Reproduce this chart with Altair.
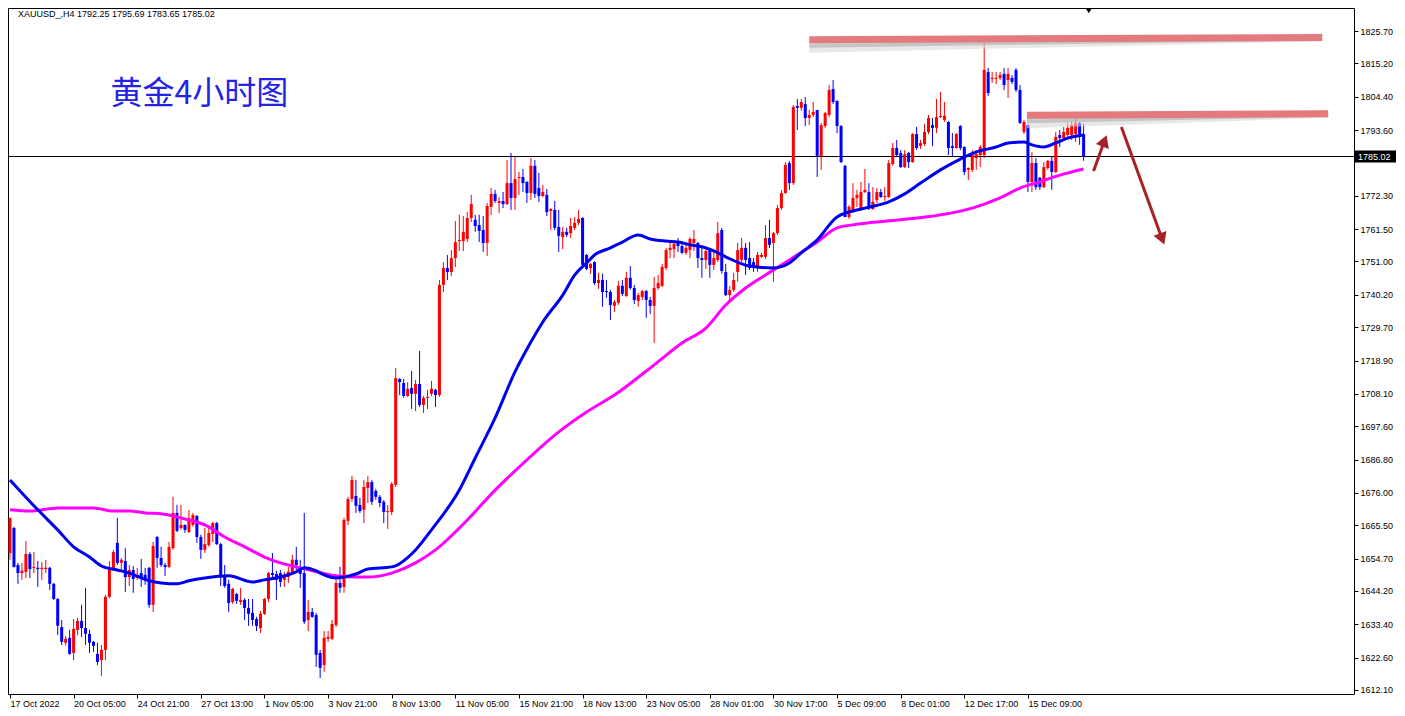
import json
import altair as alt
import pandas as pd

# ---------------- data ----------------
O = [1656.5, 1664.6, 1652.6, 1650.0, 1650.4, 1656.2, 1651.7, 1651.7, 1651.3, 1651.3,
     1651.7, 1646.5, 1641.6, 1632.5, 1627.4, 1629.0, 1624.1, 1631.6, 1634.5, 1632.2,
     1630.3, 1627.7, 1623.8, 1621.8, 1625.1, 1642.3, 1651.3, 1659.8, 1653.3, 1653.9,
     1648.7, 1651.0, 1648.4, 1650.0, 1649.4, 1651.7, 1639.7, 1661.7, 1654.9, 1652.6,
     1652.0, 1658.1, 1669.5, 1664.6, 1665.6, 1663.3, 1665.6, 1668.5, 1661.7, 1657.5,
     1659.1, 1662.7, 1666.2, 1659.4, 1649.1, 1646.5, 1640.6, 1643.2, 1640.6, 1641.3,
     1638.7, 1637.1, 1635.1, 1632.2, 1636.8, 1641.6, 1650.0, 1649.7, 1650.0, 1647.8,
     1648.7, 1650.4, 1654.3, 1652.0, 1650.0, 1634.8, 1637.4, 1636.4, 1624.1, 1620.2,
     1628.7, 1628.7, 1633.2, 1646.8, 1645.5, 1666.9, 1674.0, 1675.0, 1672.1, 1670.5,
     1677.6, 1679.5, 1676.6, 1674.7, 1673.1, 1669.8, 1669.8, 1678.6, 1712.9, 1711.6,
     1707.4, 1710.0, 1708.1, 1711.3, 1704.5, 1706.8, 1708.1, 1709.4, 1707.7, 1743.4,
     1748.9, 1747.6, 1752.1, 1757.6, 1757.6, 1758.3, 1765.1, 1764.5, 1762.8, 1761.2,
     1757.0, 1768.7, 1772.9, 1770.0, 1770.6, 1769.6, 1776.4, 1771.6, 1778.1, 1778.4,
     1776.8, 1773.2, 1782.0, 1774.8, 1772.2, 1772.6, 1767.4, 1767.7, 1762.2, 1758.9,
     1760.6, 1760.2, 1761.9, 1763.5, 1765.1, 1753.1, 1748.9, 1750.8, 1744.0, 1745.0,
     1741.4, 1741.1, 1736.6, 1737.6, 1743.1, 1739.8, 1745.7, 1742.4, 1738.2, 1739.5,
     1741.4, 1738.5, 1736.6, 1742.4, 1743.1, 1748.9, 1754.7, 1755.0, 1757.0, 1756.0,
     1753.8, 1754.7, 1757.0, 1757.0, 1752.1, 1751.5, 1754.7, 1749.9, 1751.5, 1761.2,
     1747.6, 1740.1, 1741.8, 1747.6, 1751.5, 1755.4, 1752.1, 1750.8, 1748.9, 1752.5,
     1752.5, 1758.6, 1757.0, 1760.2, 1768.3, 1773.2, 1782.9, 1776.4, 1801.4, 1800.8,
     1802.0, 1797.5, 1798.5, 1800.1, 1785.2, 1794.9, 1798.5, 1806.9, 1803.0, 1794.9,
     1782.0, 1765.4, 1767.0, 1771.6, 1768.3, 1773.5, 1773.5, 1768.0, 1770.9, 1773.5,
     1771.9, 1771.9, 1782.6, 1787.8, 1786.2, 1781.6, 1786.2, 1783.2, 1792.3, 1788.4,
     1789.1, 1793.0, 1795.2, 1794.3, 1797.8, 1796.9, 1796.2, 1788.4, 1787.8, 1794.9,
     1788.1, 1780.7, 1780.7, 1784.5, 1785.5, 1785.5, 1812.4, 1810.2, 1810.2, 1810.5,
     1811.8, 1809.8, 1810.5, 1813.1, 1806.6, 1793.0, 1795.2, 1776.8, 1782.9, 1778.1,
     1775.1, 1781.3, 1783.6, 1780.0, 1792.0, 1791.0, 1792.0, 1792.0, 1792.3, 1795.9,
     1792.25]

H = [1667.9, 1665.0, 1653.3, 1653.3, 1660.4, 1656.8, 1656.8, 1653.9, 1653.6, 1654.3,
     1652.0, 1646.8, 1641.9, 1634.8, 1629.6, 1631.6, 1635.1, 1635.5, 1639.7, 1645.2,
     1631.6, 1628.0, 1627.4, 1626.7, 1642.9, 1653.9, 1657.5, 1667.9, 1654.9, 1658.1,
     1652.6, 1652.3, 1651.7, 1654.6, 1651.7, 1652.0, 1660.1, 1662.0, 1658.5, 1653.3,
     1660.1, 1674.7, 1672.1, 1672.1, 1665.8, 1670.5, 1669.5, 1668.8, 1662.4, 1664.6,
     1664.6, 1666.6, 1666.6, 1659.8, 1652.6, 1647.8, 1645.2, 1643.6, 1645.2, 1641.9,
     1641.6, 1641.6, 1635.8, 1637.7, 1641.9, 1650.4, 1656.5, 1650.7, 1651.0, 1650.4,
     1652.0, 1655.9, 1658.5, 1654.3, 1669.5, 1641.3, 1638.7, 1637.1, 1625.1, 1631.2,
     1631.2, 1634.8, 1647.8, 1652.0, 1667.9, 1674.7, 1681.5, 1680.2, 1674.4, 1680.2,
     1681.5, 1680.2, 1677.3, 1675.3, 1673.7, 1672.1, 1679.5, 1716.5, 1713.2, 1712.9,
     1711.9, 1715.5, 1712.6, 1722.0, 1707.4, 1709.4, 1712.3, 1709.7, 1745.0, 1750.8,
     1753.1, 1754.7, 1764.1, 1766.1, 1765.7, 1767.0, 1772.6, 1766.1, 1766.1, 1765.7,
     1770.0, 1774.8, 1774.2, 1771.9, 1773.5, 1783.9, 1786.2, 1785.2, 1780.0, 1781.0,
     1777.0, 1784.5, 1783.9, 1779.7, 1775.8, 1774.5, 1768.3, 1770.6, 1767.7, 1762.2,
     1761.9, 1765.1, 1765.4, 1767.7, 1765.4, 1753.4, 1750.5, 1751.0, 1747.3, 1747.0,
     1745.0, 1741.8, 1738.5, 1744.7, 1745.0, 1747.6, 1749.5, 1743.4, 1740.8, 1741.8,
     1741.8, 1739.5, 1746.0, 1746.6, 1750.2, 1755.4, 1757.0, 1757.6, 1758.6, 1757.6,
     1757.3, 1758.9, 1761.2, 1757.3, 1755.7, 1755.4, 1755.4, 1754.4, 1763.8, 1761.9,
     1750.2, 1743.1, 1747.3, 1757.0, 1758.6, 1757.0, 1757.3, 1752.1, 1754.1, 1753.8,
     1762.8, 1764.5, 1760.6, 1769.3, 1774.2, 1783.2, 1783.6, 1801.7, 1803.7, 1803.7,
     1804.3, 1800.1, 1802.7, 1800.1, 1795.9, 1799.5, 1808.2, 1809.8, 1803.3, 1795.2,
     1782.3, 1769.3, 1776.4, 1774.2, 1776.8, 1781.0, 1776.4, 1775.1, 1774.8, 1774.5,
     1775.1, 1783.9, 1789.4, 1790.4, 1787.1, 1787.1, 1786.5, 1792.6, 1794.6, 1790.4,
     1795.6, 1798.5, 1797.5, 1803.7, 1805.9, 1802.7, 1796.5, 1792.6, 1792.6, 1795.2,
     1788.3, 1781.5, 1787.1, 1786.5, 1788.8, 1822.5, 1813.7, 1812.4, 1812.4, 1812.4,
     1813.7, 1813.7, 1811.4, 1813.7, 1808.2, 1796.9, 1795.6, 1786.5, 1784.5, 1778.4,
     1783.2, 1783.9, 1784.9, 1793.0, 1793.6, 1794.6, 1795.9, 1796.5, 1797.5, 1796.2,
     1795.69]

L = [1654.3, 1651.8, 1646.5, 1647.8, 1648.4, 1648.4, 1650.0, 1645.5, 1647.8, 1650.0,
     1644.5, 1641.3, 1629.9, 1626.7, 1626.4, 1623.5, 1621.8, 1629.9, 1629.3, 1626.7,
     1624.1, 1624.4, 1620.2, 1616.7, 1621.8, 1641.9, 1651.0, 1652.6, 1651.0, 1643.9,
     1645.8, 1643.6, 1647.8, 1645.5, 1646.2, 1638.7, 1637.4, 1651.7, 1652.0, 1649.1,
     1651.7, 1657.5, 1663.3, 1664.0, 1663.0, 1663.0, 1665.0, 1659.8, 1654.6, 1656.5,
     1658.5, 1660.1, 1659.1, 1645.8, 1645.2, 1637.4, 1640.0, 1640.0, 1639.7, 1634.8,
     1632.9, 1632.9, 1631.2, 1630.6, 1636.4, 1640.6, 1648.7, 1641.3, 1645.5, 1645.5,
     1646.8, 1649.4, 1651.0, 1645.2, 1633.5, 1631.2, 1635.5, 1619.6, 1616.0, 1618.0,
     1627.7, 1628.3, 1632.5, 1643.6, 1643.6, 1665.6, 1673.1, 1669.5, 1669.5, 1666.2,
     1672.7, 1672.1, 1673.7, 1671.4, 1666.2, 1664.3, 1668.8, 1677.9, 1707.7, 1706.8,
     1707.1, 1703.2, 1702.5, 1703.8, 1701.9, 1703.2, 1707.4, 1703.8, 1707.1, 1741.1,
     1745.0, 1746.3, 1749.2, 1754.4, 1754.4, 1757.3, 1763.8, 1760.6, 1757.3, 1754.1,
     1752.8, 1766.1, 1770.0, 1766.7, 1768.3, 1769.3, 1767.7, 1767.7, 1772.6, 1773.5,
     1770.0, 1770.9, 1771.6, 1770.3, 1771.9, 1765.7, 1761.2, 1761.2, 1754.1, 1755.0,
     1758.9, 1758.6, 1761.2, 1762.8, 1748.9, 1748.2, 1747.0, 1743.4, 1742.1, 1736.3,
     1739.2, 1732.0, 1734.6, 1736.9, 1739.8, 1739.5, 1741.8, 1737.2, 1736.3, 1738.5,
     1732.7, 1734.0, 1724.6, 1741.8, 1742.7, 1748.2, 1752.1, 1752.1, 1754.1, 1753.4,
     1753.1, 1752.1, 1754.4, 1748.9, 1745.7, 1748.6, 1745.7, 1748.2, 1750.8, 1747.0,
     1739.8, 1738.5, 1741.1, 1744.4, 1750.8, 1746.6, 1748.2, 1747.6, 1747.6, 1752.1,
     1751.8, 1755.4, 1744.4, 1759.6, 1767.7, 1772.9, 1774.2, 1775.8, 1793.6, 1799.8,
     1794.9, 1795.2, 1797.8, 1778.4, 1780.7, 1794.3, 1797.8, 1802.0, 1792.6, 1782.9,
     1765.4, 1764.8, 1766.7, 1768.7, 1767.7, 1773.2, 1767.7, 1767.7, 1770.0, 1771.6,
     1770.6, 1771.6, 1782.0, 1784.9, 1781.3, 1781.3, 1781.3, 1783.0, 1787.1, 1787.5,
     1788.4, 1792.3, 1788.4, 1792.6, 1797.5, 1796.2, 1785.5, 1784.9, 1787.5, 1787.1,
     1779.0, 1777.4, 1780.0, 1780.7, 1781.6, 1784.5, 1804.6, 1808.9, 1808.5, 1809.8,
     1806.6, 1804.0, 1808.5, 1805.9, 1795.6, 1792.3, 1773.5, 1773.5, 1774.2, 1774.2,
     1774.8, 1780.7, 1774.2, 1779.7, 1788.1, 1790.4, 1791.4, 1790.4, 1789.7, 1788.8,
     1783.65]

C = [1667.9, 1652.0, 1650.0, 1650.7, 1656.2, 1651.3, 1652.0, 1651.3, 1651.7, 1651.7,
     1646.5, 1641.6, 1632.9, 1627.7, 1628.7, 1623.8, 1631.9, 1634.5, 1632.2, 1630.3,
     1627.4, 1626.4, 1621.2, 1625.1, 1642.3, 1651.0, 1656.8, 1653.3, 1654.3, 1648.7,
     1651.0, 1648.1, 1649.4, 1648.4, 1647.8, 1639.7, 1658.8, 1654.9, 1652.6, 1652.0,
     1658.5, 1669.5, 1663.7, 1665.6, 1664.0, 1667.9, 1668.8, 1661.7, 1657.5, 1659.4,
     1663.0, 1666.2, 1659.4, 1648.7, 1645.8, 1640.3, 1644.9, 1641.0, 1641.3, 1638.7,
     1636.8, 1634.8, 1632.9, 1636.8, 1641.6, 1650.0, 1649.4, 1647.8, 1647.1, 1649.4,
     1650.4, 1654.3, 1652.6, 1649.7, 1634.2, 1637.4, 1635.8, 1623.5, 1619.3, 1629.0,
     1629.3, 1633.5, 1646.8, 1645.2, 1667.2, 1674.0, 1680.2, 1671.8, 1670.1, 1677.9,
     1679.5, 1673.1, 1674.7, 1672.7, 1669.8, 1670.1, 1678.9, 1713.2, 1711.9, 1707.4,
     1709.7, 1708.1, 1711.3, 1704.5, 1706.8, 1707.1, 1709.7, 1707.7, 1743.4, 1748.9,
     1747.6, 1752.1, 1757.3, 1758.0, 1760.6, 1765.1, 1769.6, 1762.5, 1760.9, 1757.0,
     1769.0, 1772.9, 1770.6, 1770.6, 1769.6, 1776.4, 1771.6, 1777.7, 1778.4, 1776.4,
     1773.2, 1782.0, 1772.9, 1772.2, 1773.5, 1767.0, 1768.0, 1761.9, 1759.3, 1760.6,
     1759.6, 1762.5, 1763.5, 1764.8, 1749.9, 1748.6, 1750.2, 1744.0, 1745.0, 1741.1,
     1741.1, 1736.9, 1737.9, 1743.1, 1740.5, 1745.7, 1742.4, 1738.5, 1740.1, 1741.4,
     1738.5, 1736.6, 1742.4, 1744.0, 1749.2, 1754.7, 1755.4, 1756.7, 1756.0, 1753.8,
     1755.4, 1758.3, 1758.3, 1752.1, 1751.5, 1754.4, 1749.9, 1752.1, 1760.2, 1747.9,
     1740.1, 1741.8, 1745.0, 1754.7, 1755.4, 1751.5, 1748.9, 1748.9, 1753.1, 1753.1,
     1758.6, 1756.4, 1760.2, 1768.3, 1773.2, 1782.3, 1776.4, 1801.1, 1800.8, 1802.7,
     1797.5, 1798.5, 1799.5, 1785.2, 1795.2, 1799.1, 1806.6, 1802.7, 1794.9, 1783.2,
     1765.4, 1768.7, 1771.6, 1772.6, 1773.5, 1774.2, 1768.3, 1770.3, 1773.5, 1771.9,
     1772.2, 1782.9, 1787.8, 1785.5, 1781.6, 1785.8, 1783.2, 1792.3, 1787.8, 1789.4,
     1793.0, 1797.5, 1794.3, 1797.8, 1798.2, 1798.2, 1787.8, 1787.8, 1792.3, 1787.8,
     1780.0, 1781.3, 1786.2, 1785.8, 1788.1, 1813.1, 1805.6, 1810.5, 1810.5, 1811.4,
     1808.2, 1811.8, 1809.2, 1806.6, 1795.9, 1796.2, 1776.8, 1782.9, 1775.1, 1775.1,
     1781.6, 1783.6, 1780.0, 1791.4, 1791.0, 1793.0, 1794.3, 1795.2, 1795.9, 1792.0,
     1785.02]

# moving averages (bar index, value)
MA_BLUE_IDX = [0, 7, 12, 16, 20, 23, 27, 30, 35, 38, 42, 45, 49, 55, 61, 64, 68, 72, 74, 77,
               79, 82, 84, 87, 90, 96, 102, 106, 113, 117, 122, 127, 131, 134, 139, 142, 145, 147, 151, 154,
               158, 161, 165, 168, 171, 175, 177, 180, 186, 192, 196, 199, 203, 208, 215, 221, 225, 229, 234, 239,
               243, 248, 251, 255, 257, 260, 263, 266, 270]
MA_BLUE_VAL = [1680.2, 1670.5, 1664.0, 1658.5, 1655.2, 1652.3, 1651.0, 1650.0, 1647.5, 1646.8,
               1646.5, 1647.5, 1648.4, 1649.1, 1647.1, 1647.8, 1648.7, 1650.4, 1651.7, 1650.7,
               1649.4, 1648.4, 1648.7, 1649.7, 1651.3, 1652.0, 1657.5, 1664.0, 1676.9, 1687.3,
               1700.3, 1715.2, 1724.9, 1731.4, 1740.1, 1746.6, 1750.5, 1753.1, 1755.4, 1757.3,
               1759.6, 1758.3, 1757.6, 1757.3, 1756.4, 1755.4, 1754.4, 1752.5, 1749.5, 1748.9,
               1750.5, 1753.8, 1758.0, 1765.4, 1768.3, 1770.3, 1772.9, 1776.4, 1780.7, 1784.2,
               1786.5, 1788.1, 1789.4, 1789.7, 1788.8, 1788.1, 1789.4, 1791.0, 1792.0]
MA_PINK_IDX = [0, 5, 12, 21, 26, 30, 34, 38, 42, 45, 49, 54, 59, 64, 68, 72, 77, 82, 87, 90,
               96, 102, 107, 115, 122, 130, 137, 145, 152, 162, 169, 175, 180, 185, 192, 196, 203, 208, 214, 224,
               234, 242, 249, 254, 259, 264, 270]
MA_PINK_VAL = [1670.5, 1670.1, 1671.1, 1671.1, 1670.1, 1670.1, 1669.5, 1669.2, 1668.2, 1667.2,
               1665.6, 1661.7, 1658.5, 1655.2, 1653.3, 1652.0, 1650.4, 1649.1, 1648.7, 1648.7,
               1650.0, 1653.3, 1657.5, 1667.2, 1676.9, 1686.7, 1694.7, 1702.2, 1707.7, 1717.5,
               1724.6, 1729.4, 1736.9, 1742.4, 1748.2, 1751.5, 1757.3, 1761.9, 1763.2, 1764.5,
               1766.1, 1768.3, 1771.6, 1774.8, 1776.8, 1779.0, 1781.0]

X_LABELS = ["17 Oct 2022", "20 Oct 05:00", "24 Oct 21:00", "27 Oct 13:00", "1 Nov 05:00",
            "3 Nov 21:00", "8 Nov 13:00", "11 Nov 05:00", "15 Nov 21:00", "18 Nov 13:00",
            "23 Nov 05:00", "28 Nov 01:00", "30 Nov 17:00", "5 Dec 09:00", "8 Dec 01:00",
            "12 Dec 17:00", "15 Dec 09:00"]
X_TICKS = [16 * k for k in range(len(X_LABELS))]
Y_TICKS = [1825.70, 1815.20, 1804.40, 1793.60, 1772.30, 1761.50, 1751.00, 1740.20,
           1729.70, 1718.90, 1708.10, 1697.60, 1686.80, 1676.00, 1665.50, 1654.70,
           1644.20, 1633.40, 1622.60, 1612.10]

BID = 1785.02
TITLE_TXT = "XAUUSD_,H4  1792.25 1795.69 1783.65 1785.02"
CN_TXT = "黄金4小时图"

# resistance lines (bar index / price)
RES_XA = [201.0, 255.75]
RES_XB = [330.0, 331.5]
RES_YA = [1822.9, 1798.4]
RES_YB = [1823.6, 1798.9]
# arrows
ARR_XA = [272.5, 279.5]
ARR_YA = [1780.3, 1794.6]
ARR_XB = [275.25, 289.75]
ARR_YB = [1790.1, 1758.3]
ARR_ANG = [21, 159]

# ---------------- build ----------------
W, HH = 1346, 686
XD = [-0.5, 338.0]
YD = [1610.8, 1833.16]
xs = alt.Scale(domain=XD, nice=False, zero=False)
ys = alt.Scale(domain=YD, nice=False, zero=False)

xlab_expr = json.dumps(X_LABELS) + "[round(datum.value / 16)]"
XAX = alt.Axis(values=X_TICKS, labelExpr=xlab_expr, labelAlign="left",
               labelBaseline="top", labelPadding=1, tickSize=4, domain=False,
               labelOverlap=False, labelFlush=False, grid=False, title=None)
YAX = alt.Axis(orient="right", values=Y_TICKS, format=".2f", tickSize=4,
               labelPadding=2, domain=False, labelOverlap=False, grid=False,
               labelFlush=False, title=None)


def X(f):
    return alt.X(f, scale=xs, axis=XAX, title=None)


def Y(f):
    return alt.Y(f, scale=ys, axis=YAX, title=None)


rows = []
for i in range(len(C)):
    o, c = O[i], C[i]
    hi, lo = max(H[i], o, c), min(L[i], o, c)
    top, bot = max(o, c), min(o, c)
    if top - bot < 0.35:
        m = (top + bot) / 2
        top, bot = m + 0.17, m - 0.17
    rows.append(dict(i=i, x0=i - 0.38, x1=i + 0.38, h=hi, l=lo, top=top, bot=bot,
                     d="up" if c >= o else "down"))
df = pd.DataFrame(rows)
col = alt.Color("d:N", scale=alt.Scale(domain=["up", "down"], range=["#FF0000", "#0000FF"]), legend=None)

wicks = alt.Chart(df).mark_rule(strokeWidth=1).encode(
    x=X("i:Q"), y=Y("l:Q"), y2="h:Q", color=col)
bodies = alt.Chart(df).mark_rect().encode(
    x=X("x0:Q"), x2="x1:Q", y=Y("bot:Q"), y2="top:Q", color=col)

bid_df = pd.DataFrame({"p": [BID]})
bid_line = alt.Chart(bid_df).mark_rule(color="black", strokeWidth=1).encode(
    y=Y("p:Q"), x=alt.value(0), x2=alt.value(W))

mb = pd.DataFrame({"i": MA_BLUE_IDX, "v": MA_BLUE_VAL})
mp = pd.DataFrame({"i": MA_PINK_IDX, "v": MA_PINK_VAL})
ma_blue = alt.Chart(mb).mark_line(color="#0000F0", strokeWidth=3, interpolate="monotone").encode(
    x=X("i:Q"), y=Y("v:Q"))
ma_pink = alt.Chart(mp).mark_line(color="#FF00FF", strokeWidth=3, interpolate="monotone").encode(
    x=X("i:Q"), y=Y("v:Q"))

res_df = pd.DataFrame({"xa": RES_XA, "xb": RES_XB, "ya": RES_YA, "yb": RES_YB})
res_enc = dict(x=X("xa:Q"), x2="xb:Q", y=Y("ya:Q"), y2="yb:Q")
res_shadow2 = alt.Chart(res_df).mark_rule(strokeWidth=8, color="#D8D8D8", opacity=0.6,
                                          yOffset=9, strokeCap="butt").encode(**res_enc)
res_shadow = alt.Chart(res_df).mark_rule(strokeWidth=6, color="#A8A8A8", opacity=0.55,
                                         yOffset=5, strokeCap="butt").encode(**res_enc)
res_line = alt.Chart(res_df).mark_rule(strokeWidth=7, color="#E57A7E",
                                       strokeCap="butt").encode(**res_enc)

arr_df = pd.DataFrame({"xa": ARR_XA, "ya": ARR_YA, "xb": ARR_XB, "yb": ARR_YB, "ang": ARR_ANG})
arr_line = alt.Chart(arr_df).mark_rule(strokeWidth=3, color="#A52226").encode(
    x=X("xa:Q"), x2="xb:Q", y=Y("ya:Q"), y2="yb:Q")
arr_head = alt.Chart(arr_df).mark_point(shape="triangle-up", filled=True, size=190,
                                        color="#A52226", opacity=1).encode(
    x=X("xb:Q"), y=Y("yb:Q"), angle=alt.Angle("ang:Q", scale=None))

cn_df = pd.DataFrame({"t": [CN_TXT], "i": [25.3], "p": [1805.4]})
cn_text = alt.Chart(cn_df).mark_text(align="left", baseline="middle", fontSize=32,
                                     font="Noto Sans CJK SC", color="#2323E6").encode(
    x=X("i:Q"), y=Y("p:Q"), text="t:N")

title_df = pd.DataFrame({"t": [TITLE_TXT]})
title_text = alt.Chart(title_df).mark_text(align="left", baseline="middle", fontSize=9,
                                           font="Liberation Sans", color="black").encode(
    x=alt.value(10), y=alt.value(6), text="t:N")

shift_df = pd.DataFrame({"i": [271.3]})
shift_mark = alt.Chart(shift_df).mark_point(shape="triangle-down", filled=True, size=30,
                                            color="black", opacity=1).encode(
    x=X("i:Q"), y=alt.value(3))

tag_df = pd.DataFrame({"p": [BID], "p1": [BID + 1.95], "p0": [BID - 1.95],
                       "t": ["%.2f" % BID]})
tag_rect = alt.Chart(tag_df).mark_rect(color="black").encode(
    x=alt.value(W + 1), x2=alt.value(W + 42), y=Y("p0:Q"), y2="p1:Q")
tag_text = alt.Chart(tag_df).mark_text(align="left", baseline="middle", fontSize=9,
                                       font="Liberation Sans", color="white").encode(
    x=alt.value(W + 4), y=Y("p:Q"), text="t:N")

chart = alt.layer(
    wicks, bid_line, bodies, ma_pink, ma_blue,
    res_shadow2, res_shadow, res_line, arr_line, arr_head,
    cn_text, title_text, shift_mark, tag_rect, tag_text,
).properties(
    width=W, height=HH, background="white",
    autosize=alt.AutoSizeParams(type="none"),
    padding={"left": 0, "top": 0, "right": 43, "bottom": 14},
).configure_view(
    stroke="black", strokeWidth=1,
).configure_axis(
    labelFont="Liberation Sans", labelFontSize=9, labelColor="black",
    tickColor="black", tickWidth=1,
)

chart.save("out.html", embed_options={"renderer": "svg", "actions": False})
